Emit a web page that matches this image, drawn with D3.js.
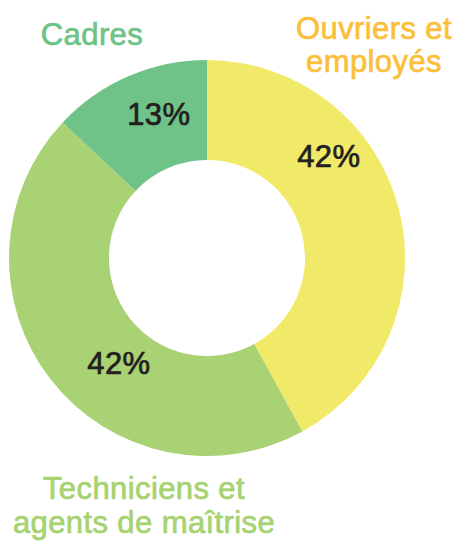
<!DOCTYPE html>
<html>
<head>
<meta charset="utf-8">
<script src="https://cdn.jsdelivr.net/npm/d3@7"></script>
<style>
  body { margin: 0; background: #fff; }
  svg { display: block; }
  text { font-family: "Liberation Sans", Arial, Helvetica, sans-serif; letter-spacing: 0.4px; }
</style>
</head>
<body>
<svg id="chart" width="459" height="544"></svg>
<script>
// parts des catégories (sens horaire depuis midi)
var categories = ["Ouvriers et employés", "Techniciens et agents de maîtrise", "Cadres"];
var values = [42, 45, 13];
var pctLabels = ["42%", "42%", "13%"];
var nameLines = [["Ouvriers et", "employés"], ["Techniciens et", "agents de maîtrise"], ["Cadres"]];

var sliceColors = ["#f1ea69", "#a8d273", "#6fc388"];
var textColors = ["#fbbf3a", "#a6d26f", "#6dc388"];

var svg = d3.select("#chart"),
	cx = 207,
	cy = 258,
	outerR = 198,
	innerR = 98;

var pie = d3.pie().sort(null).value(function (d) { return d; });
var arc = d3.arc().innerRadius(innerR).outerRadius(outerR);

var arcs = pie(values);

var g = svg.append("g").attr("transform", "translate(" + cx + "," + cy + ")");

g.selectAll("path.slice")
	.data(arcs)
	.enter()
	.append("path")
	.attr("class", "slice")
	.attr("d", arc)
	.attr("fill", function (d, i) { return sliceColors[i]; });

// placement des pourcentages (angle en degrés, rayon)
var pctPos = [[50, 159], [220, 137], [-18.5, 152]];

g.selectAll("text.pct")
	.data(arcs)
	.enter()
	.append("text")
	.attr("class", "pct")
	.attr("x", function (d, i) { return pctPos[i][1] * Math.sin(pctPos[i][0] * Math.PI / 180); })
	.attr("y", function (d, i) { return -pctPos[i][1] * Math.cos(pctPos[i][0] * Math.PI / 180); })
	.attr("dy", "0.35em")
	.attr("text-anchor", "middle")
	.style("font-size", "31px")
	.style("fill", "#231f20")
	.style("stroke", "#231f20")
	.style("stroke-width", "0.7px")
	.text(function (d, i) { return pctLabels[i]; });

// noms des catégories : centre x et ligne de base de la première ligne
var namePos = [[374, 39, 32.7], [144, 499, 34.3], [92, 44.5, 0]];

var names = svg.selectAll("text.name")
	.data(categories)
	.enter()
	.append("text")
	.attr("class", "name")
	.attr("text-anchor", "middle")
	.style("font-size", "31px")
	.style("fill", function (d, i) { return textColors[i]; })
	.style("stroke", function (d, i) { return textColors[i]; })
	.style("stroke-width", "0.7px");

names.each(function (d, i) {
	var t = d3.select(this);
	nameLines[i].forEach(function (line, k) {
		t.append("tspan")
			.attr("x", namePos[i][0])
			.attr("y", namePos[i][1] + k * namePos[i][2])
			.text(line);
	});
});
</script>
</body>
</html>
